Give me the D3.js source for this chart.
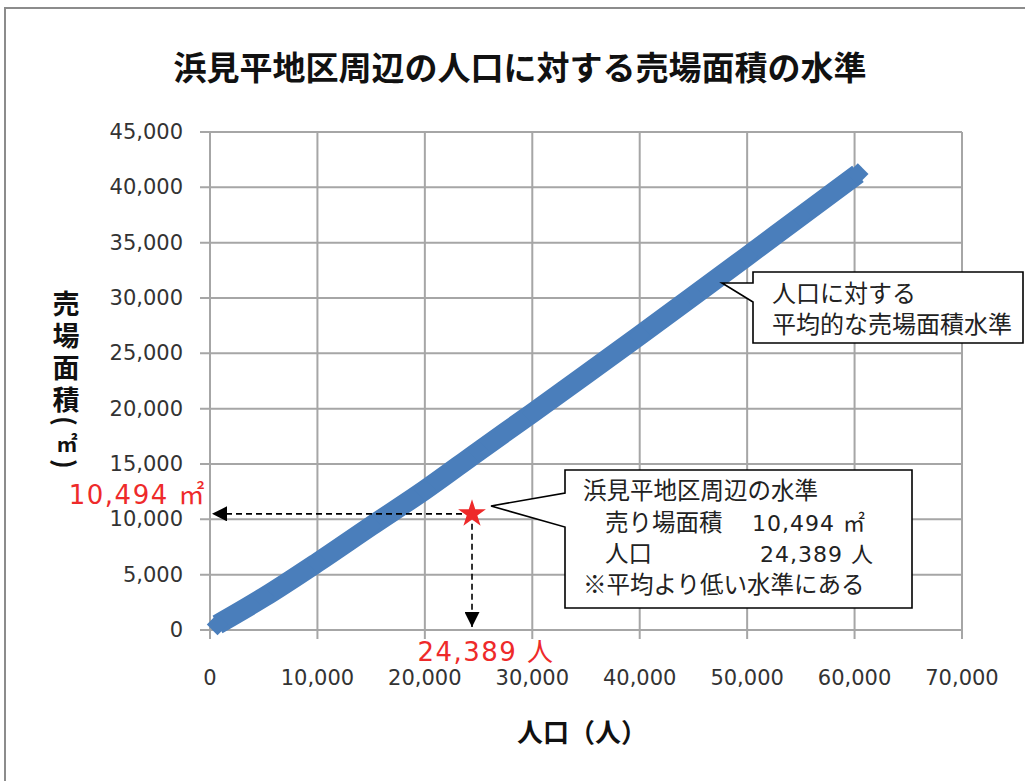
<!DOCTYPE html>
<html>
<head>
<meta charset="utf-8">
<script src="https://cdn.jsdelivr.net/npm/d3@7"></script>
<style>
  body { margin: 0; background: #fff; }
  svg { display: block; }
</style>
</head>
<body>
<div id="viz"></div>
<script>
// population (x) and sales floor area (y)
const popX = [700, 5000, 10000, 15000, 20000, 25000, 30000, 35000, 40000, 45000, 50000, 55000, 60300];
const areaY = [500, 2950, 6100, 9400, 12650, 16150, 19600, 23100, 26630, 30190, 33780, 37390, 41200];

// the local point (star)
const localPop = [24389];
const localArea = [10494];

const xTicks = [0, 10000, 20000, 30000, 40000, 50000, 60000, 70000];
const yTicks = [0, 5000, 10000, 15000, 20000, 25000, 30000, 35000, 40000, 45000];

const titleText = "浜見平地区周辺の人口に対する売場面積の水準";
const xTitle = "人口（人）";
const yTitleChars = ["売", "場", "面", "積"];
const yTitleUnit = ["(", "㎡", ")"];
const note1 = ["人口に対する", "平均的な売場面積水準"];

const W = 1025, H = 781;
const jp = "'Noto Sans CJK JP', 'Noto Sans', sans-serif";
const num = "'DejaVu Sans', 'Noto Sans CJK JP', sans-serif";
const fmt = d3.format(",");

const svg = d3.select("#viz").append("svg").attr("width", W).attr("height", H);

// outer frame
svg.append("path")
	.attr("d", `M5,${H} L5,8 L${W},8`)
	.attr("fill", "none")
	.attr("stroke", "#8c8c8c")
	.attr("stroke-width", 2);

svg.append("text")
	.attr("x", 520).attr("y", 80)
	.attr("text-anchor", "middle")
	.attr("font-family", jp)
	.attr("font-weight", "bold")
	.attr("font-size", 33)
	.attr("fill", "#111")
	.text(titleText);

const x = d3.scaleLinear().domain([0, 70000]).range([210, 962]);
const y = d3.scaleLinear().domain([0, 45000]).range([630, 132]);

// grid
const grid = svg.append("g").attr("stroke", "#a6a6a6").attr("stroke-width", 2);
grid.selectAll("line.h").data(yTicks).join("line")
	.attr("x1", 200).attr("x2", 962)
	.attr("y1", (d) => y(d)).attr("y2", (d) => y(d));
grid.selectAll("line.v").data(xTicks).join("line")
	.attr("x1", (d) => x(d)).attr("x2", (d) => x(d))
	.attr("y1", 132).attr("y2", 639);

// tick labels
svg.append("g").selectAll("text").data(yTicks).join("text")
	.attr("x", 183).attr("y", (d) => y(d) + 7)
	.attr("text-anchor", "end")
	.attr("font-family", "'DejaVu Sans', sans-serif")
	.attr("font-size", 21)
	.attr("fill", "#333")
	.text((d) => fmt(d));

svg.append("g").selectAll("text").data(xTicks).join("text")
	.attr("x", (d) => x(d)).attr("y", 685)
	.attr("text-anchor", "middle")
	.attr("font-family", "'DejaVu Sans', sans-serif")
	.attr("font-size", 21)
	.attr("fill", "#333")
	.text((d) => fmt(d));

// axis titles
svg.append("text")
	.attr("x", 582).attr("y", 742)
	.attr("text-anchor", "middle")
	.attr("font-family", jp)
	.attr("font-weight", "bold")
	.attr("font-size", 26)
	.attr("fill", "#111")
	.text(xTitle);

const yt = svg.append("g")
	.attr("font-family", jp)
	.attr("font-weight", "bold")
	.attr("fill", "#111")
	.attr("text-anchor", "middle");
yt.selectAll("text.c").data(yTitleChars).join("text")
	.attr("x", 66).attr("y", (d, i) => 302 + i * 32)
	.attr("dominant-baseline", "central")
	.attr("font-size", 27)
	.text((d) => d);
// parentheses turned a quarter so they read as arches
yt.append("text").attr("font-size", 26)
	.attr("dominant-baseline", "central")
	.attr("transform", "translate(66,421) rotate(90)").text(yTitleUnit[0]);
yt.append("text").attr("font-size", 21)
	.attr("dominant-baseline", "central")
	.attr("x", 67).attr("y", 442).text(yTitleUnit[1]);
yt.append("text").attr("font-size", 26)
	.attr("dominant-baseline", "central")
	.attr("transform", "translate(66,464) rotate(90)").text(yTitleUnit[2]);

// trend line with diamond markers
const pts = popX.map((p, i) => [p, areaY[i]]);
const blue = "#4a7ebb";
svg.append("path")
	.datum(pts)
	.attr("d", d3.line().curve(d3.curveMonotoneX).x((d) => x(d[0])).y((d) => y(d[1])))
	.attr("fill", "none")
	.attr("stroke", blue)
	.attr("stroke-width", 20);
svg.append("g").selectAll("path").data(pts).join("path")
	.attr("d", d3.symbol().type(d3.symbolSquare).size(230))
	.attr("transform", (d) => `translate(${x(d[0])},${y(d[1])}) rotate(45)`)
	.attr("fill", blue);

// dashed guides to the local point
const sx = x(localPop[0]), sy = y(localArea[0]);
svg.append("defs").append("marker")
	.attr("id", "arr")
	.attr("viewBox", "0 0 10 10")
	.attr("refX", 10).attr("refY", 5)
	.attr("markerWidth", 15).attr("markerHeight", 15)
	.attr("markerUnits", "userSpaceOnUse")
	.attr("orient", "auto")
	.append("path").attr("d", "M0,0 L10,5 L0,10 Z").attr("fill", "#000");

svg.append("line")
	.attr("x1", sx - 10).attr("y1", sy).attr("x2", x(0) + 2).attr("y2", sy)
	.attr("stroke", "#000").attr("stroke-width", 1.6)
	.attr("stroke-dasharray", "6,4")
	.attr("marker-end", "url(#arr)");
svg.append("line")
	.attr("x1", sx).attr("y1", sy + 10).attr("x2", sx).attr("y2", y(0) - 3)
	.attr("stroke", "#000").attr("stroke-width", 1.6)
	.attr("stroke-dasharray", "6,4")
	.attr("marker-end", "url(#arr)");

const red = "#ee2a2a";
svg.append("path")
	.attr("d", d3.symbol().type(d3.symbolStar).size(240))
	.attr("transform", `translate(${sx},${sy})`)
	.attr("fill", red);

svg.append("text")
	.attr("x", 206).attr("y", sy - 10)
	.attr("text-anchor", "end")
	.attr("font-family", num)
	.attr("font-size", 26)
	.attr("letter-spacing", 1.5)
	.attr("fill", red)
	.text(fmt(localArea[0]) + " ㎡");
svg.append("text")
	.attr("x", sx + 14).attr("y", 661)
	.attr("text-anchor", "middle")
	.attr("font-family", num)
	.attr("font-size", 26)
	.attr("letter-spacing", 1.5)
	.attr("fill", red)
	.text(fmt(localPop[0]) + " 人");

// callouts
function callout(l, t, r, b, tip, j1, j2) {
	svg.append("path")
		.attr("d", `M${l},${t} L${r},${t} L${r},${b} L${l},${b} L${l},${j2} L${tip[0]},${tip[1]} L${l},${j1} Z`)
		.attr("fill", "#fff")
		.attr("stroke", "#000")
		.attr("stroke-width", 1.6);
}

callout(753, 272, 1023, 343, [722, 283], 283, 302);
svg.append("g").selectAll("text").data(note1).join("text")
	.attr("x", 772).attr("y", (d, i) => 302 + i * 31)
	.attr("font-family", jp)
	.attr("font-size", 24)
	.attr("fill", "#222")
	.text((d) => d);

callout(565, 470, 912, 608, [491, 506], 493, 527);
const t2 = svg.append("g")
	.attr("font-family", jp)
	.attr("font-size", 23.5)
	.attr("fill", "#222");
t2.append("text").attr("x", 583).attr("y", 499).text("浜見平地区周辺の水準");
t2.append("text").attr("x", 605).attr("y", 531).text("売り場面積");
t2.append("text").attr("x", 752).attr("y", 531)
	.attr("font-family", num).attr("font-size", 22).attr("letter-spacing", 1)
	.text(fmt(localArea[0]) + " ㎡");
t2.append("text").attr("x", 605).attr("y", 562).text("人口");
t2.append("text").attr("x", 874).attr("y", 562).attr("text-anchor", "end")
	.attr("font-family", num).attr("font-size", 22).attr("letter-spacing", 1)
	.text(fmt(localPop[0]) + " 人");
t2.append("text").attr("x", 583).attr("y", 593).text("※平均より低い水準にある");
</script>
</body>
</html>
